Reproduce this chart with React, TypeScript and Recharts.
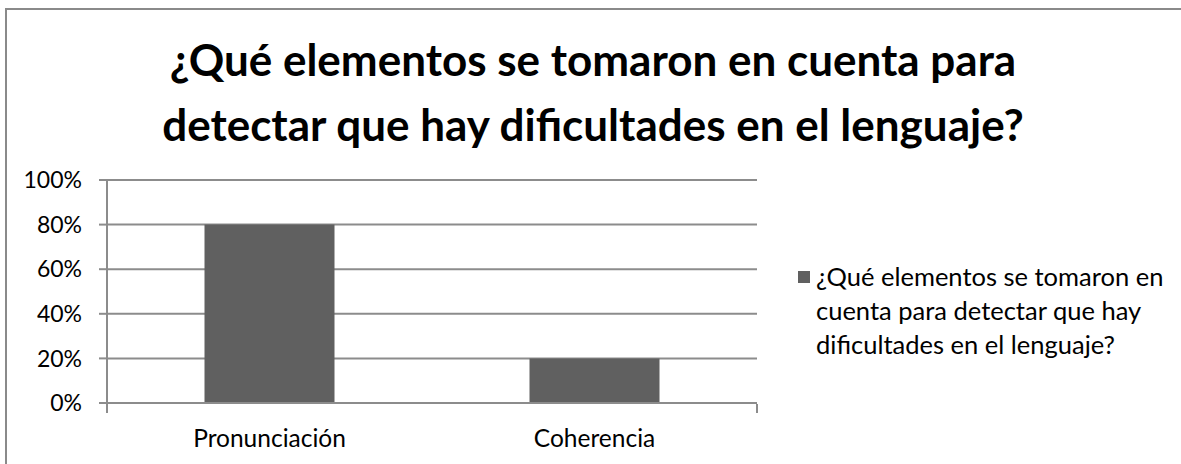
import React from "react";
import { BarChart, Bar, XAxis, YAxis, CartesianGrid } from "recharts";

const titleLines = ["¿Qué elementos se tomaron en cuenta para", "detectar que hay dificultades en el lenguaje?"];
const categories = ["Pronunciación", "Coherencia"];
const values = [0.8, 0.2];
const seriesName = "¿Qué elementos se tomaron en cuenta para detectar que hay dificultades en el lenguaje?";
const legendLines = ["¿Qué elementos se tomaron en", "cuenta para detectar que hay", "dificultades en el lenguaje?"];
const yTicks = [0, 0.2, 0.4, 0.6, 0.8, 1];
const edgeTicks = [0, 1, 2];

const data = categories.map((c, i) => ({ cat: c, v: values[i] }));

const FONT = "Lato, 'Open Sans', sans-serif";
const GRID = "#8c8c8c";
const BAR = "#606060";

export default function App() {
  return (
    <div style={{ position: "fixed", left: 0, top: 0, width: 1181, height: 464, overflow: "hidden", background: "#fff" }}>
      <style>{`html,body{margin:0;padding:0;overflow:hidden;}`}</style>
      <div style={{ position: "absolute", left: 5, top: 8, width: 1300, height: 600, borderLeft: "2px solid #8a8a8a", borderTop: "2px solid #8a8a8a", boxSizing: "border-box" }} />
      <div
        style={{
          position: "absolute",
          left: 5,
          width: 1176,
          top: 27,
          textAlign: "center",
          fontFamily: FONT,
          fontWeight: 700,
          fontSize: 44,
          lineHeight: "65px",
          color: "#000",
        }}
      >
        {titleLines.map((l, i) => (
          <div key={i}>{l}</div>
        ))}
      </div>
      <div style={{ position: "absolute", left: 0, top: 0 }}>
        <BarChart width={1181} height={464} data={data} margin={{ top: 180, right: 424, bottom: 59, left: 0 }} barCategoryGap="30%">
          <CartesianGrid vertical={false} stroke={GRID} strokeWidth={2} />
          <XAxis
            xAxisId="edge"
            type="number"
            domain={[0, 2]}
            allowDataOverflow
            ticks={edgeTicks}
            interval={0}
            tickFormatter={() => ""}
            tickSize={9}
            axisLine={false}
            tickLine={{ stroke: GRID, strokeWidth: 2 }}
            height={1}
          />
          <XAxis
            dataKey="cat"
            height={1}
            interval={0}
            tickLine={false}
            tickSize={0}
            tickMargin={27}
            axisLine={{ stroke: GRID, strokeWidth: 2 }}
            tick={{ fill: "#000", fontSize: 24.5, fontFamily: FONT }}
          />
          <YAxis
            width={107}
            domain={[0, 1]}
            ticks={yTicks}
            interval={0}
            tickFormatter={(v: number) => `${Math.round(v * 100)}%`}
            tickSize={8}
            tickMargin={17}
            axisLine={{ stroke: GRID, strokeWidth: 2 }}
            tickLine={{ stroke: GRID, strokeWidth: 2 }}
            tick={{ fill: "#000", fontSize: 23, fontFamily: FONT }}
          />
          <Bar dataKey="v" name={seriesName} fill={BAR} isAnimationActive={false} />
        </BarChart>
      </div>
      <div
        style={{
          position: "absolute",
          left: 798,
          top: 259,
          display: "flex",
          alignItems: "flex-start",
          fontFamily: FONT,
          fontSize: 25.5,
          color: "#000",
        }}
        title={seriesName}
      >
        <div style={{ width: 12, height: 12, background: BAR, marginTop: 12, marginRight: 6, flex: "none" }} />
        <div style={{ lineHeight: "34px", whiteSpace: "nowrap" }}>
          {legendLines.map((l, i) => (
            <div key={i}>{l}</div>
          ))}
        </div>
      </div>
      <div style={{ position: "absolute", left: 1166, top: 11, width: 15, height: 453, background: "#fff", zIndex: 10 }} />
    </div>
  );
}
